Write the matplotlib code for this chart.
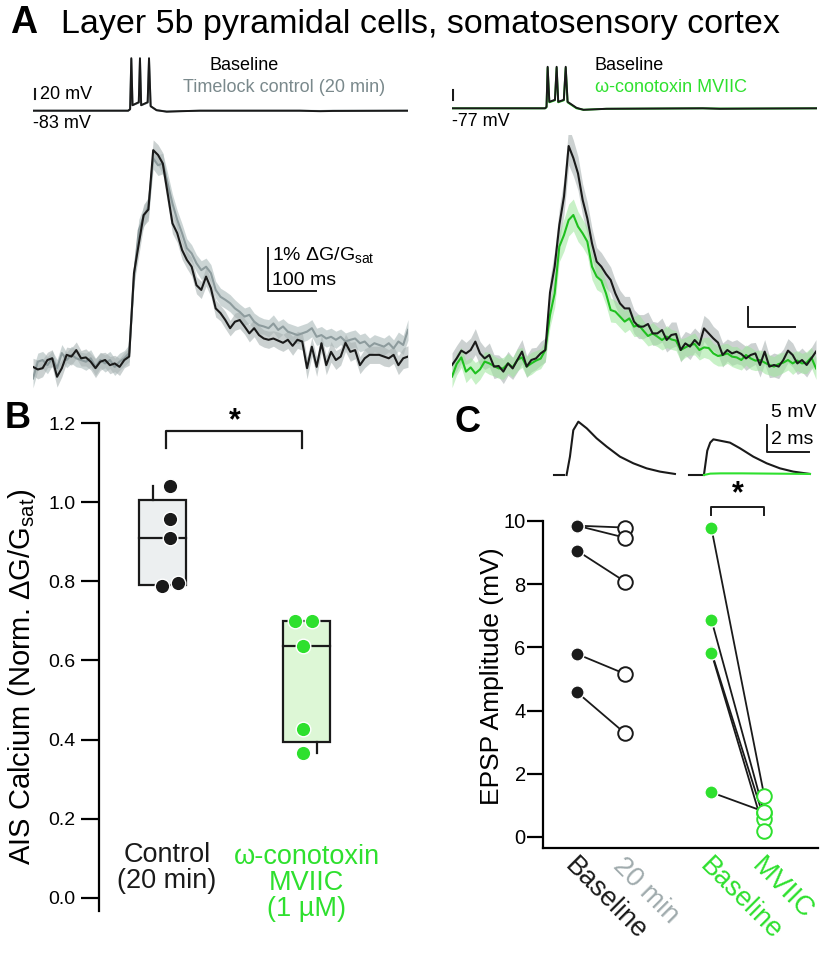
import numpy as np
import matplotlib.pyplot as plt

plt.rcParams['font.family'] = ['Liberation Sans', 'DejaVu Sans']
plt.rcParams['mathtext.fontset'] = 'custom'
plt.rcParams['mathtext.rm'] = 'Liberation Sans'
plt.rcParams['mathtext.it'] = 'Liberation Sans:italic'
plt.rcParams['mathtext.bf'] = 'Liberation Sans:bold'

BLACK = '#1a1a1a'
GRAY_TXT = '#7a898c'
GRAY_LINE = '#8d9b9d'
GRAY_LBL = '#a0abad'
GREEN = '#2ee02e'
GREEN_LINE = '#1fc01f'

# ---- A: voltage traces (ms, mV) ----
vm_t_left = [0, 198, 202, 204.5, 207, 220, 222.5, 225, 238.5, 241.3, 244.7, 257, 278, 306, 347, 555, 597, 624, 780]
vm_black_left = [-83, -83, -80, 22, -72, -66, 22, -72, -66, 22, -74, -82, -85, -84, -83, -83, -84, -83.5, -83]
vm_gray_left = [-83, -83, -80, 20, -72, -67, 20, -72, -67, 20, -74, -82, -84.5, -84, -83, -83, -83.5, -83, -83]

vm_t_right = [0, 199, 202, 204.4, 208, 220, 223.6, 227, 239, 243, 247, 266, 281, 330, 536, 572, 644, 779]
vm_black_right = [-77, -77, -74, 6, -64, -60, 6, -64, -60, 6, -64, -76, -80, -78, -77, -78, -77.5, -77]
vm_green_right = [-77, -77, -75, 4, -65, -61, 4, -65, -61, 4, -65, -77, -80, -78, -77, -77.5, -77.5, -77]

# ---- A: AIS calcium traces (% dG/Gsat), 10 ms samples ----
ca_dt = 10
ca_left_base = [
    -0.16, -0.22, -0.19, 0.0, 0.04, -0.39, -0.19, 0.12, 0.08, 0.23,
    0.04, 0.06, -0.04, -0.19, -0.04, 0.0, -0.12, -0.08, -0.16, 0.0,
    0.08, 2.02, 2.7, 3.37, 3.5, 4.88, 4.77, 4.57, 3.88, 3.18,
    2.95, 2.56, 2.33, 2.17, 1.74, 1.63, 1.94, 1.67, 1.2, 1.09,
    0.93, 0.74, 0.89, 0.93, 0.78, 0.62, 0.74, 0.58, 0.5, 0.47,
    0.5, 0.45, 0.4, 0.47, 0.33, 0.47, 0.43, -0.19, 0.31, -0.16,
    0.39, -0.12, 0.19, 0.0, 0.08, 0.4, 0.19, 0.23, -0.12, 0.04,
    0.12, 0.12, 0.12, 0.08, 0.04, 0.12, -0.12, 0.04, 0.08]
ca_left_base_sem = [
    0.2, 0.22, 0.2, 0.18, 0.2, 0.24, 0.2, 0.18, 0.2, 0.19,
    0.18, 0.2, 0.19, 0.22, 0.2, 0.18, 0.2, 0.19, 0.2, 0.18,
    0.2, 0.25, 0.27, 0.25, 0.26, 0.24, 0.24, 0.25, 0.25, 0.24,
    0.22, 0.22, 0.2, 0.22, 0.2, 0.2, 0.22, 0.2, 0.2, 0.18,
    0.2, 0.18, 0.2, 0.2, 0.18, 0.2, 0.2, 0.22, 0.2, 0.2,
    0.18, 0.2, 0.2, 0.2, 0.22, 0.2, 0.2, 0.25, 0.22, 0.22,
    0.2, 0.22, 0.24, 0.22, 0.2, 0.2, 0.22, 0.2, 0.2, 0.22,
    0.2, 0.2, 0.2, 0.22, 0.2, 0.2, 0.22, 0.24, 0.25]
ca_left_ctrl = [
    -0.43, -0.04, 0.0, -0.12, 0.04, -0.19, 0.16, 0.0, 0.12, 0.04,
    0.0, -0.04, 0.04, -0.16, 0.0, -0.08, 0.0, -0.16, -0.04, 0.04,
    0.16, 1.94, 3.02, 3.33, 3.57, 4.69, 4.53, 4.57, 4.11, 3.64,
    3.26, 2.95, 2.6, 2.48, 2.25, 2.09, 2.17, 2.02, 1.63, 1.47,
    1.4, 1.32, 1.2, 1.12, 1.01, 1.05, 0.89, 0.81, 0.78, 0.74,
    0.85, 0.7, 0.78, 0.66, 0.62, 0.58, 0.62, 0.66, 0.74, 0.54,
    0.58, 0.5, 0.54, 0.47, 0.54, 0.43, 0.47, 0.5, 0.39, 0.43,
    0.31, 0.39, 0.35, 0.31, 0.39, 0.27, 0.43, 0.35, 0.7]
ca_left_ctrl_sem = [
    0.22, 0.2, 0.2, 0.2, 0.18, 0.2, 0.2, 0.18, 0.2, 0.2,
    0.18, 0.2, 0.2, 0.2, 0.18, 0.2, 0.2, 0.2, 0.2, 0.18,
    0.2, 0.24, 0.25, 0.24, 0.24, 0.25, 0.24, 0.24, 0.24, 0.22,
    0.22, 0.22, 0.22, 0.2, 0.2, 0.22, 0.2, 0.2, 0.2, 0.2,
    0.2, 0.2, 0.2, 0.18, 0.2, 0.2, 0.2, 0.2, 0.18, 0.2,
    0.2, 0.2, 0.18, 0.2, 0.2, 0.2, 0.2, 0.2, 0.2, 0.2,
    0.2, 0.2, 0.2, 0.2, 0.18, 0.2, 0.2, 0.2, 0.2, 0.2,
    0.2, 0.2, 0.2, 0.2, 0.2, 0.2, 0.22, 0.22, 0.24]

ca_right_base = [
    -0.25, 0.08, 0.47, 0.33, 0.5, 0.92, 0.33, 0.08, 0.25, -0.33,
    -0.3, -0.58, -0.17, -0.42, 0.0, 0.42, -0.33, 0.0, 0.08, 0.33,
    0.5, 3.37, 4.67, 6.75, 8.17, 10.7, 10.1, 9.33, 8.0, 7.08,
    5.83, 4.92, 4.67, 4.3, 4.0, 3.33, 2.83, 2.58, 2.58, 1.92,
    1.67, 1.67, 1.8, 1.33, 1.33, 1.5, 1.0, 1.25, 1.3, 0.5,
    0.83, 0.67, 1.0, 0.75, 1.58, 1.33, 1.08, 0.87, 0.25, 0.5,
    0.33, 0.42, 0.3, 0.08, 0.25, 0.33, -0.25, 0.42, -0.33, -0.25,
    -0.33, 0.0, 0.47, 0.25, -0.17, 0.0, -0.25, 0.08, 0.42]
ca_right_base_sem = [
    0.6, 0.65, 0.6, 0.55, 0.6, 0.65, 0.6, 0.55, 0.6, 0.6,
    0.55, 0.6, 0.6, 0.55, 0.6, 0.6, 0.55, 0.6, 0.55, 0.6,
    0.6, 0.7, 0.8, 0.85, 0.9, 0.95, 0.9, 0.85, 0.8, 0.8,
    0.75, 0.7, 0.7, 0.7, 0.65, 0.65, 0.65, 0.6, 0.6, 0.6,
    0.6, 0.6, 0.6, 0.6, 0.55, 0.6, 0.6, 0.65, 0.6, 0.6,
    0.6, 0.65, 0.6, 0.6, 0.65, 0.7, 0.6, 0.6, 0.6, 0.55,
    0.6, 0.6, 0.55, 0.6, 0.6, 0.55, 0.6, 0.6, 0.55, 0.6,
    0.6, 0.55, 0.6, 0.6, 0.55, 0.6, 0.6, 0.55, 0.6]
ca_right_mviic = [
    -0.83, -0.2, 0.13, -0.58, -0.37, -0.67, -0.47, -0.08, -0.17, -0.3,
    -0.42, -0.42, -0.17, -0.37, 0.0, 0.13, -0.33, -0.17, -0.03, 0.07,
    0.5, 2.25, 3.33, 5.67, 6.25, 7.0, 7.25, 6.67, 6.33, 5.92,
    4.67, 4.17, 3.97, 3.33, 2.5, 2.42, 2.17, 1.92, 2.08, 1.67,
    1.75, 1.47, 1.2, 1.33, 1.17, 1.0, 1.17, 1.03, 0.97, 0.5,
    0.63, 0.75, 0.8, 0.5, 0.63, 0.6, 0.33, 0.2, 0.25, 0.33,
    0.17, 0.13, 0.0, 0.25, 0.08, -0.03, 0.0, -0.13, -0.25, -0.33,
    -0.2, -0.13, 0.0, -0.17, -0.03, -0.17, -0.13, 0.13, -0.42]
ca_right_mviic_sem = [
    0.55, 0.55, 0.5, 0.55, 0.5, 0.55, 0.5, 0.5, 0.55, 0.5,
    0.5, 0.55, 0.5, 0.5, 0.55, 0.5, 0.5, 0.55, 0.5, 0.5,
    0.55, 0.6, 0.7, 0.75, 0.8, 0.8, 0.8, 0.75, 0.7, 0.7,
    0.65, 0.65, 0.6, 0.6, 0.6, 0.55, 0.55, 0.55, 0.55, 0.5,
    0.55, 0.5, 0.5, 0.55, 0.5, 0.5, 0.55, 0.5, 0.5, 0.55,
    0.5, 0.5, 0.55, 0.5, 0.5, 0.55, 0.5, 0.5, 0.55, 0.5,
    0.5, 0.55, 0.5, 0.5, 0.55, 0.5, 0.5, 0.55, 0.5, 0.5,
    0.55, 0.5, 0.5, 0.55, 0.5, 0.5, 0.55, 0.5, 0.55]

# ---- B: normalized AIS calcium ----
b_labels = ['Control\n(20 min)', 'ω-conotoxin\nMVIIC\n(1 µM)']
b_ctrl_vals = [1.04, 0.957, 0.91, 0.788, 0.795]
b_ctrl_jit = [0.05, 0.05, 0.05, -0.005, 0.11]
b_mviic_vals = [0.70, 0.70, 0.636, 0.427, 0.366]
b_mviic_jit = [-0.08, 0.04, -0.025, -0.025, -0.025]
b_box_q1 = [0.79, 0.393]
b_box_med = [0.91, 0.636]
b_box_q3 = [1.005, 0.70]
b_whisk_lo = [0.79, 0.365]
b_whisk_hi = [1.04, 0.70]

# ---- C: EPSP amplitude (mV) ----
c_labels = ['Baseline', '20 min', 'Baseline', 'MVIIC']
c_xpos = [0, 1, 2.8, 3.9]
c_ctrl_base = [9.85, 9.85, 9.06, 5.79, 4.58]
c_ctrl_20 = [9.79, 9.47, 8.08, 5.16, 3.28]
c_mv_base = [9.77, 6.87, 5.86, 5.82, 1.41]
c_mv_drug = [1.3, 0.76, 0.56, 0.2, 0.8]

# example EPSPs (ms, mV)
epsp_t_ctrl = [0.6, 0.76, 0.92, 1.16, 1.56, 2.03, 2.51, 3.14, 3.78, 4.41, 5.05, 5.76]
epsp_v_ctrl = [0.0, 3.4, 8.3, 9.87, 8.64, 6.79, 5.25, 3.4, 2.16, 1.23, 0.62, 0.19]
epsp_t_mv = [0.7, 0.86, 1.0, 1.15, 1.46, 1.94, 2.42, 3.05, 3.69, 4.32, 4.96, 5.75]
epsp_v_mv = [0.0, 4.5, 6.0, 6.6, 6.36, 5.99, 4.94, 3.4, 2.16, 1.23, 0.62, 0.19]
epsp_t_mvg = [0.7, 1.0, 1.5, 2.5, 4.0, 5.75]
epsp_v_mvg = [0.0, 0.25, 0.3, 0.3, 0.25, 0.19]

W, H = 826, 974
fig = plt.figure(figsize=(W / 100, H / 100), dpi=100)


def px_axes(x0, y0, x1, y1):
    return fig.add_axes([x0 / W, 1 - y1 / H, (x1 - x0) / W, (y1 - y0) / H])


fig.text(420 / W, 1 - 24 / H, 'Layer 5b pyramidal cells, somatosensory cortex',
         ha='center', va='center', fontsize=24.5)
fig.text(10 / W, 1 - 23 / H, 'A', fontsize=27, weight='bold', va='center')
fig.text(5 / W, 1 - 418 / H, 'B', fontsize=26, weight='bold', va='center')
fig.text(455 / W, 1 - 423 / H, 'C', fontsize=26, weight='bold', va='center')

# voltage, left
ax = px_axes(33, 50, 408, 125)
ax.plot(vm_t_left, vm_gray_left, color=GRAY_LINE, lw=1.4)
ax.plot(vm_t_left, vm_black_left, color=BLACK, lw=1.4)
ax.set_xlim(0, 780)
ax.set_ylim(-111.6, 38.4)
ax.plot([4, 4], [-60, -40], color=BLACK, lw=1.5)
ax.text(15, -50, '20 mV', fontsize=13, va='center')
ax.text(0, -109.6, '-83 mV', fontsize=13, va='center')
ax.text(368, 6.4, 'Baseline', fontsize=13, va='center')
ax.text(312, -37.6, 'Timelock control (20 min)', fontsize=13, va='center', color=GRAY_TXT)
ax.axis('off')

# voltage, right
ax = px_axes(452, 50, 817, 125)
ax.plot(vm_t_right, vm_green_right, color=GREEN_LINE, lw=1.4)
ax.plot(vm_t_right, vm_black_right, color=BLACK, lw=1.4)
ax.set_xlim(0, 780)
ax.set_ylim(-110.4, 39.6)
ax.plot([2, 2], [-60, -40], color=BLACK, lw=1.5)
ax.text(0, -102.4, '-77 mV', fontsize=13, va='center')
ax.text(305, 7.6, 'Baseline', fontsize=13, va='center')
ax.text(305, -36.4, 'ω-conotoxin MVIIC', fontsize=13, va='center', color=GREEN)
ax.axis('off')

# calcium, left
t = np.arange(len(ca_left_base)) * ca_dt
ax = px_axes(33, 135, 408, 395)
lb, sb = np.array(ca_left_base), np.array(ca_left_base_sem)
lc, sc = np.array(ca_left_ctrl), np.array(ca_left_ctrl_sem)
ax.fill_between(t, lc - sc, lc + sc, color='#bcc8c8', alpha=0.75, lw=0)
ax.fill_between(t, lb - sb, lb + sb, color='#a9b3b3', alpha=0.6, lw=0)
ax.plot(t, lc, color=GRAY_LINE, lw=1.5)
ax.plot(t, lb, color=BLACK, lw=1.5)
ax.plot([489, 489, 589], [2.6, 1.6, 1.6], color=BLACK, lw=1.4)
ax.text(497, 2.44, '1% ΔG/G$_{\\mathrm{sat}}$', fontsize=14, va='center')
ax.text(497, 1.86, '100 ms', fontsize=14, va='center')
ax.set_xlim(0, 780)
ax.set_ylim(-0.814, 5.233)
ax.axis('off')

# calcium, right
ax = px_axes(452, 135, 816, 395)
rb, rsb = np.array(ca_right_base), np.array(ca_right_base_sem)
rm, rsm = np.array(ca_right_mviic), np.array(ca_right_mviic_sem)
ax.fill_between(t, rb - rsb, rb + rsb, color='#aab3b3', alpha=0.6, lw=0)
ax.fill_between(t, rm - rsm, rm + rsm, color='#9be69a', alpha=0.55, lw=0)
ax.plot(t, rm, color=GREEN_LINE, lw=1.5)
ax.plot(t, rb, color=BLACK, lw=1.5)
ax.plot([635, 635, 735], [2.67, 1.67, 1.67], color=BLACK, lw=1.4)
ax.set_xlim(0, 780)
ax.set_ylim(-1.75, 11.25)
ax.axis('off')

# ---- B ----
ax = px_axes(99, 405, 400, 911)
bx = [1, 2]
box_fill = ['#eceff0', '#ddf7d6']
for i in range(2):
    ax.bar(bx[i], b_box_q3[i] - b_box_q1[i], bottom=b_box_q1[i], width=0.33,
           color=box_fill[i], edgecolor=BLACK, lw=1.6, zorder=2)
    ax.plot([bx[i] - 0.165, bx[i] + 0.165], [b_box_med[i]] * 2, color=BLACK, lw=1.6, zorder=3)
ax.plot([bx[0] - 0.066] * 2, [b_box_q3[0], b_whisk_hi[0]], color=BLACK, lw=1.6, zorder=2)
ax.plot([bx[1] + 0.073] * 2, [b_whisk_lo[1], b_box_q1[1]], color=BLACK, lw=1.6, zorder=2)
ax.scatter(bx[0] + np.array(b_ctrl_jit), b_ctrl_vals, s=110, color=BLACK,
           edgecolors='white', linewidths=1, zorder=4)
ax.scatter(bx[1] + np.array(b_mviic_jit), b_mviic_vals, s=110, color=GREEN,
           edgecolors='white', linewidths=1, zorder=4)
ax.plot([1.025, 1.025, 1.97, 1.97], [1.137, 1.18, 1.18, 1.137], color=BLACK, lw=1.6,
        clip_on=False)
ax.text(1.5, 1.205, '*', fontsize=22, weight='bold', ha='center', va='center')
ax.text(1.03, 0.075, b_labels[0], fontsize=19.5, ha='center', va='center',
        linespacing=1.0, color=BLACK)
ax.text(2.0, 0.038, b_labels[1], fontsize=19.5, ha='center', va='center',
        linespacing=1.0, color=GREEN)
ax.set_xlim(0.559, 2.649)
ax.set_ylim(-0.033, 1.2456)
for s in ['top', 'right', 'bottom']:
    ax.spines[s].set_visible(False)
ax.spines['left'].set_linewidth(1.6)
ax.spines['left'].set_bounds(-0.033, 1.2)
ax.set_xticks([])
ax.set_yticks([0.0, 0.2, 0.4, 0.6, 0.8, 1.0, 1.2])
ax.set_yticklabels(['0.0', '0.2', '0.4', '0.6', '0.8', '1.0', '1.2'])
ax.tick_params(axis='y', length=13, width=1.6, labelsize=14, pad=4)
ax.patch.set_visible(False)
fig.text(22 / W, 1 - 677 / H, 'AIS Calcium (Norm. ΔG/G$_{\\mathrm{sat}}$)',
         rotation=90, ha='center', va='center', fontsize=21)

# ---- C: example EPSPs ----
ax = px_axes(550, 405, 815, 482)
off = 6.44
ax.plot([0, 0.48], [0, 0], color=BLACK, lw=1.5)
ax.plot(epsp_t_ctrl, epsp_v_ctrl, color=BLACK, lw=1.5)
ax.plot([off, off + 0.59], [0, 0], color=BLACK, lw=1.5)
ax.plot(np.array(epsp_t_mv) + off, epsp_v_mv, color=BLACK, lw=1.5)
ax.plot(np.array(epsp_t_mvg) + off, epsp_v_mvg, color=GREEN, lw=1.5)
ax.plot([10.14, 10.14, 12.14], [9.26, 4.26, 4.26], color=BLACK, lw=1.4)
ax.text(10.33, 11.5, '5 mV', fontsize=14, va='center')
ax.text(10.33, 6.48, '2 ms', fontsize=14, va='center')
ax.set_xlim(-0.19, 12.43)
ax.set_ylim(-1.3, 12.96)
ax.axis('off')

# ---- C: amplitude scatter ----
ax = px_axes(543, 483, 818, 848)
for a, b in zip(c_ctrl_base, c_ctrl_20):
    ax.plot([c_xpos[0], c_xpos[1]], [a, b], color=BLACK, lw=1.3, zorder=1)
for a, b in zip(c_mv_base, c_mv_drug):
    ax.plot([c_xpos[2], c_xpos[3]], [a, b], color=BLACK, lw=1.3, zorder=1)
ax.plot([c_xpos[0]] * 5, c_ctrl_base, 'o', ms=9.5, color=BLACK, mec='white', mew=1, zorder=3)
ax.plot([c_xpos[1]] * 5, c_ctrl_20, 'o', ms=10.5, mfc='white', mec=BLACK, mew=1.4, zorder=3)
ax.plot([c_xpos[2]] * 5, c_mv_base, 'o', ms=9.5, color=GREEN, mec='white', mew=1, zorder=3)
ax.plot([c_xpos[3]] * 5, c_mv_drug, 'o', ms=10.5, mfc='white', mec=GREEN, mew=1.4, zorder=3)
ax.plot([c_xpos[2], c_xpos[2], c_xpos[3], c_xpos[3]], [10.19, 10.44, 10.44, 10.19],
        color=BLACK, lw=1.4, clip_on=False)
ax.text((c_xpos[2] + c_xpos[3]) / 2, 10.85, '*', fontsize=22, weight='bold',
        ha='center', va='center')
lbl_colors = [BLACK, GRAY_LBL, GREEN, GREEN]
for x, lab, col in zip(c_xpos, c_labels, lbl_colors):
    ax.text(x - 0.17, -0.79, lab, rotation=-45, rotation_mode='anchor', ha='left',
            va='center', fontsize=19.5, color=col)
ax.set_xlim(-0.708, 5.02)
ax.set_ylim(-0.35, 11.2)
for s in ['top', 'right']:
    ax.spines[s].set_visible(False)
ax.spines['left'].set_linewidth(1.6)
ax.spines['bottom'].set_linewidth(1.6)
ax.spines['left'].set_bounds(-0.35, 10)
ax.set_xticks([])
ax.set_yticks([0, 2, 4, 6, 8, 10])
ax.tick_params(axis='y', length=11.5, width=1.6, labelsize=14.5, pad=1)
ax.patch.set_visible(False)
fig.text(492 / W, 1 - 676 / H, 'EPSP Amplitude (mV)', rotation=90, ha='center',
         va='center', fontsize=19)

fig.savefig('out.png', dpi=100)
